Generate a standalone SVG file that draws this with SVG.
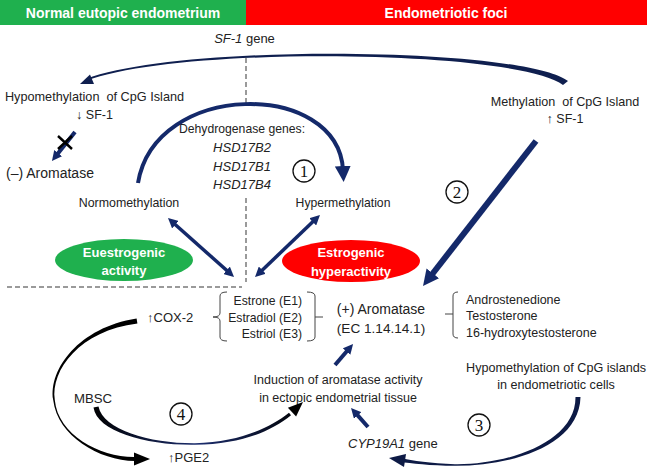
<svg xmlns="http://www.w3.org/2000/svg" width="649" height="467" viewBox="0 0 649 467">
<defs>
<style>
text{font-family:"Liberation Sans",Arial,sans-serif;fill:#222}
.c{text-anchor:middle}
.e{text-anchor:end}
.bar{font-weight:bold;fill:#fff;font-size:14px}
.ell{font-weight:bold;fill:#fff;font-size:13px}
.it{font-style:italic}
.nav{stroke:#14296a;fill:none}
.navf{fill:#14296a}
.dash{stroke:#7a7a7a;stroke-width:1.5;stroke-dasharray:5 3;fill:none}
.br{stroke:#444;stroke-width:1;fill:none}
.num circle{fill:#fff;stroke:#111;stroke-width:1.3}
.num text{font-family:"Liberation Serif",serif;font-size:17px;text-anchor:middle;fill:#111}
</style>
<marker id="ah" viewBox="0 0 10 10" markerWidth="10" markerHeight="10" markerUnits="userSpaceOnUse" refX="3" refY="5" orient="auto-start-reverse"><path d="M0,0 L10,5 L0,10 z" fill="#14296a"/></marker>
<marker id="ahL" viewBox="0 0 16 16" markerWidth="16" markerHeight="16" markerUnits="userSpaceOnUse" refX="4" refY="8" orient="auto"><path d="M0,0 L16,8 L0,16 z" fill="#14296a"/></marker>
<linearGradient id="g4" x1="92" y1="0" x2="305" y2="0" gradientUnits="userSpaceOnUse"><stop offset="0" stop-color="#000"/><stop offset="0.5" stop-color="#1b2d6e"/><stop offset="1" stop-color="#000"/></linearGradient>
</defs>
<rect width="649" height="467" fill="#fff"/>

<g id="bar-normal"><rect x="0" y="0" width="246" height="25" fill="#1fb04e"/><text class="bar c" x="123" y="18">Normal eutopic endometrium</text></g>
<g id="bar-endo"><rect x="246" y="0" width="401" height="25" fill="#ff0000"/><text class="bar c" x="446" y="18">Endometriotic foci</text></g>

<g id="dividers">
<path class="dash" d="M246 58 V103 M246 198 V282 M7 287 H242"/>
</g>

<g id="sf1-gene"><text x="244.5" y="43" class="c" font-size="13"><tspan class="it">SF-1</tspan> gene</text></g>
<g id="hypo-left"><text x="94.5" y="101" class="c" font-size="12.7" xml:space="preserve">Hypomethylation  of CpG Island</text><text x="94.5" y="118.5" class="c" font-size="12.5">↓ SF-1</text></g>
<g id="meth-right"><text x="565" y="106" class="c" font-size="12.6" xml:space="preserve">Methylation  of CpG Island</text><text x="565" y="122.5" class="c" font-size="12.5">↑ SF-1</text></g>
<g id="minus-aromatase"><text x="6" y="178" font-size="14">(–) Aromatase</text></g>
<g id="dehydrogenase"><text x="242" y="133" class="c" font-size="12.2">Dehydrogenase genes:</text>
<text x="242" y="151.5" class="c it" font-size="13">HSD17B2</text>
<text x="242" y="170.5" class="c it" font-size="13">HSD17B1</text>
<text x="242" y="188.5" class="c it" font-size="13">HSD17B4</text></g>
<g id="normo"><text x="129" y="206.5" class="c" font-size="12.4">Normomethylation</text></g>
<g id="hyper"><text x="343" y="206.5" class="c" font-size="12.2">Hypermethylation</text></g>
<g id="euestrogenic"><ellipse cx="124" cy="260" rx="69" ry="21" fill="#1fb04e"/><text class="ell c" x="124" y="256.5">Euestrogenic</text><text class="ell c" x="124" y="275">activity</text></g>
<g id="estrogenic"><ellipse cx="351" cy="261" rx="69" ry="21" fill="#ff0000"/><text class="ell c" x="351" y="257">Estrogenic</text><text class="ell c" x="351" y="275.5">hyperactivity</text></g>
<g id="estrogens">
<path class="br" d="M227 292 Q220 292 220 296 V313 Q220 317 213 317 Q220 317 220 321 V337 Q220 341 227 341"/>
<path class="br" d="M307 292 Q315 292 315 296 V337 Q315 341 307 341 M315 317 H323"/>
<text x="302" y="305" class="e" font-size="12.2">Estrone (E1)</text>
<text x="302" y="321.5" class="e" font-size="12.2">Estradiol (E2)</text>
<text x="302" y="338" class="e" font-size="12.2">Estriol (E3)</text></g>
<g id="cox2"><text x="147" y="322" font-size="13">↑COX-2</text></g>
<g id="plus-aromatase"><text x="381" y="314" class="c" font-size="14">(+) Aromatase</text><text x="381" y="333" class="c" font-size="13.6">(EC 1.14.14.1)</text></g>
<g id="androgens">
<path class="br" d="M458 292 Q453 292 453 296 V334 Q453 338 458 338 M453 314 H445"/>
<text x="466" y="303.5" font-size="12.5">Androstenedione</text>
<text x="466" y="320" font-size="12.5">Testosterone</text>
<text x="466" y="336.5" font-size="12.5">16-hydroxytestosterone</text></g>
<g id="hypo-islands"><text x="556" y="371.5" class="c" font-size="12.6">Hypomethylation of CpG islands</text><text x="556" y="388.5" class="c" font-size="12.6">in endometriotic cells</text></g>
<g id="induction"><text x="338" y="383.5" class="c" font-size="12.5">Induction of aromatase activity</text><text x="338" y="401.5" class="c" font-size="12.5">in ectopic endometrial tissue</text></g>
<g id="cyp19a1"><text x="348" y="447.5" font-size="13"><tspan class="it">CYP19A1</tspan> gene</text></g>
<g id="mbsc"><text x="74" y="403" font-size="13.2">MBSC</text></g>
<g id="pge2"><text x="168" y="462" font-size="13">↑PGE2</text></g>

<g id="n1" class="num"><circle cx="304" cy="171" r="11"/><text x="304" y="177">1</text></g>
<g id="n2" class="num"><circle cx="457" cy="192" r="11"/><text x="457" y="198">2</text></g>
<g id="n3" class="num"><circle cx="479" cy="425" r="11"/><text x="479" y="431">3</text></g>
<g id="n4" class="num"><circle cx="181" cy="414" r="11"/><text x="181" y="420">4</text></g>

<g id="connectors">
<path fill="#0f1f4f" d="M568 81 C522 47 180 43 86 79 L86 81 C180 45 518 50 563 85 Z"/>
<polygon fill="#0f1f4f" points="80,84 94,84 90,74.5"/>
<line class="nav" x1="75" y1="132" x2="56.3" y2="155.5" stroke-width="4" marker-end="url(#ah)"/>
<path d="M58 136 L72 149 M58 149 L72 136" stroke="#000" stroke-width="2.4"/>
<path class="nav" stroke-width="4" d="M138 183 C155 80 338 80 343 170" marker-end="url(#ahL)"/>
<line class="nav" stroke-width="3.5" x1="173.2" y1="222.7" x2="228.8" y2="272.3" marker-start="url(#ah)" marker-end="url(#ah)"/>
<line class="nav" stroke-width="3.5" x1="314.9" y1="219.8" x2="260.1" y2="272.2" marker-start="url(#ah)" marker-end="url(#ah)"/>
<line class="nav" stroke-width="6" x1="536" y1="141" x2="430.4" y2="276.5" marker-end="url(#ahL)"/>
<line class="nav" stroke-width="4" x1="335" y1="365" x2="348.5" y2="349.3" marker-end="url(#ah)"/>
<line class="nav" stroke-width="4" x1="368" y1="427" x2="355.7" y2="413.2" marker-end="url(#ah)"/>
<path fill="#0d1a45" d="M580.5 397 C579.5 446 511 466 455 465.75 C430 465.5 411 463.5 399.7 461.7 L400.3 458.3 C413 460.5 430 463.5 455 464.25 C508 465 576 442 575.5 397 Z"/>
<polygon fill="#0d1a45" points="389,458 406,454 404,467"/>
<path fill="#000" d="M136.6 318.5 C79 327.5 48.5 369 53.2 400 C57.5 436 99 460.5 135 461 L135 457 C100 457.5 58 435 54.8 400 C50.5 370 80 330.5 137.4 323.5 Z"/>
<polygon fill="#000" points="150,459 134,452.5 134,465.5"/>
<path fill="url(#g4)" d="M93.5 407.5 C97 432 148 445.5 195 444.75 C241 444 271 431.5 291 415.2 L289 412.8 C269 428.5 239 442 195 443.25 C150 443.5 103 430 98.5 406.5 Z"/>
<polygon fill="#000" points="303,402 296.1,416.6 287.9,407.8"/>
</g>
</svg>
